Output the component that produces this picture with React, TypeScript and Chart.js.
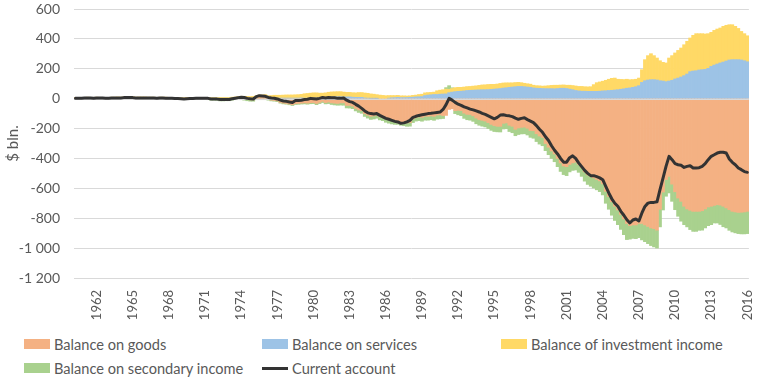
import React, { useEffect, useRef } from "react";
import { Chart, registerables } from "chart.js";

Chart.register(...registerables);

// Quarterly data, seasonally adjusted at annual rates, $ bln. (1960 Q1 – 2015 Q4)
const firstYear = 1960;
const lastYear = 2015;
const quarterNames = ["Q1", "Q2", "Q3", "Q4"];
const yearTickLabels = [
  "1962", "1965", "1968", "1971", "1974", "1977", "1980", "1983", "1986", "1989",
  "1992", "1995", "1998", "2001", "2004", "2007", "2010", "2013", "2016",
];
const seriesNames = [
  "Balance on goods",
  "Balance on services",
  "Balance of investment income",
  "Balance on secondary income",
  "Current account",
];

const categories: string[] = [];
for (let y = firstYear; y <= lastYear; y++) {
  for (const q of quarterNames) categories.push(`${y} ${q}`);
}

const goods = [
  4, 5, 5, 6, /*1960*/ 6, 5, 5, 6, /*1961*/ 5, 5, 4, 4, /*1962*/ 5, 5, 6, 5, /*1963*/
  6, 7, 7, 7, /*1964*/ 4, 5, 5, 5, /*1965*/ 4, 4, 4, 3, /*1966*/ 4, 4, 4, 3, /*1967*/
  2, 1, 1, 0, /*1968*/ -1, 1, 1, 1, /*1969*/ 2, 3, 3, 2, /*1970*/ 1, -3, -3, -4, /*1971*/
  -7, -7, -6, -6, /*1972*/ -3, 0, 2, 3, /*1973*/ -1, -5, -8, -8, /*1974*/ 5, 10, 10, 11, /*1975*/
  -5, -10, -12, -15, /*1976*/ -25, -30, -32, -36, /*1977*/ -40, -33, -32, -30, /*1978*/ -28, -30, -27, -26, /*1979*/
  -32, -25, -18, -26, /*1980*/ -22, -28, -30, -32, /*1981*/ -28, -28, -45, -45, /*1982*/ -50, -65, -75, -80, /*1983*/
  -100, -110, -118, -115, /*1984*/ -110, -120, -125, -135, /*1985*/ -140, -145, -148, -148, /*1986*/ -155, -158, -162, -160, /*1987*/
  -135, -125, -122, -125, /*1988*/ -118, -118, -115, -118, /*1989*/ -110, -108, -113, -112, /*1990*/ -72, -68, -80, -78, /*1991*/
  -80, -97, -105, -106, /*1992*/ -115, -130, -140, -145, /*1993*/ -150, -160, -172, -180, /*1994*/ -185, -185, -165, -162, /*1995*/
  -178, -185, -205, -196, /*1996*/ -192, -190, -198, -213, /*1997*/ -215, -235, -250, -260, /*1998*/ -300, -325, -350, -370, /*1999*/
  -400, -430, -450, -455, /*2000*/ -440, -430, -425, -440, /*2001*/ -460, -490, -510, -520, /*2002*/ -530, -540, -550, -570, /*2003*/
  -620, -655, -690, -720, /*2004*/ -745, -775, -805, -835, /*2005*/ -850, -845, -845, -835, /*2006*/ -835, -845, -855, -865, /*2007*/
  -870, -880, -740, -625, /*2008*/ -541, -520, -572, -623, /*2009*/ -665, -687, -720, -738, /*2010*/ -747, -754, -754, -754, /*2011*/
  -750, -738, -725, -720, /*2012*/ -714, -709, -712, -720, /*2013*/ -731, -743, -754, -758, /*2014*/ -761, -760, -758, -754, /*2015*/
];

const services = [
  -1, -1, -1, -1, /*1960*/ -1, -1, -1, -1, /*1961*/ -1, -1, -1, -1, /*1962*/ -1, -1, 0, 0, /*1963*/
  0, 0, 0, 0, /*1964*/ 0, 0, 0, 0, /*1965*/ 0, 0, 0, 0, /*1966*/ 0, 0, 0, 0, /*1967*/
  1, 1, 1, 1, /*1968*/ 0, 0, 0, 0, /*1969*/ 0, 0, 0, 0, /*1970*/ 1, 1, 1, 1, /*1971*/
  1, 1, 1, 1, /*1972*/ 1, 1, 1, 1, /*1973*/ 1, 1, 1, 2, /*1974*/ 3, 3, 3, 3, /*1975*/
  3, 3, 4, 4, /*1976*/ 4, 4, 4, 4, /*1977*/ 4, 4, 4, 5, /*1978*/ 3, 3, 3, 3, /*1979*/
  5, 6, 6, 7, /*1980*/ 10, 12, 12, 13, /*1981*/ 13, 12, 12, 12, /*1982*/ 10, 9, 9, 9, /*1983*/
  5, 4, 2, 2, /*1984*/ 1, 0, 0, 0, /*1985*/ 4, 6, 7, 9, /*1986*/ 7, 7, 8, 9, /*1987*/
  10, 12, 13, 14, /*1988*/ 21, 24, 26, 28, /*1989*/ 28, 30, 31, 32, /*1990*/ 40, 44, 47, 49, /*1991*/
  50, 52, 55, 56, /*1992*/ 57, 58, 59, 60, /*1993*/ 60, 61, 62, 64, /*1994*/ 66, 68, 71, 73, /*1995*/
  76, 78, 80, 82, /*1996*/ 82, 80, 78, 76, /*1997*/ 72, 70, 69, 68, /*1998*/ 67, 67, 67, 66, /*1999*/
  68, 70, 70, 68, /*2000*/ 64, 60, 55, 52, /*2001*/ 50, 50, 49, 49, /*2002*/ 49, 49, 50, 52, /*2003*/
  53, 55, 56, 58, /*2004*/ 60, 63, 66, 70, /*2005*/ 72, 76, 80, 87, /*2006*/ 109, 120, 125, 127, /*2007*/
  127, 125, 120, 118, /*2008*/ 114, 118, 123, 132, /*2009*/ 138, 145, 154, 165, /*2010*/ 181, 185, 187, 192, /*2011*/
  194, 196, 203, 216, /*2012*/ 225, 232, 239, 245, /*2013*/ 252, 259, 261, 261, /*2014*/ 261, 259, 254, 247, /*2015*/
];

const investmentIncome = [
  3, 3, 3, 3, /*1960*/ 4, 4, 4, 4, /*1961*/ 4, 4, 5, 5, /*1962*/ 5, 5, 5, 5, /*1963*/
  5, 5, 6, 6, /*1964*/ 6, 6, 6, 6, /*1965*/ 6, 6, 6, 6, /*1966*/ 6, 6, 6, 6, /*1967*/
  6, 6, 6, 6, /*1968*/ 6, 6, 6, 6, /*1969*/ 6, 6, 6, 6, /*1970*/ 7, 7, 7, 7, /*1971*/
  8, 8, 8, 8, /*1972*/ 9, 10, 11, 12, /*1973*/ 15, 14, 13, 13, /*1974*/ 12, 11, 12, 13, /*1975*/
  17, 18, 19, 19, /*1976*/ 19, 20, 21, 21, /*1977*/ 21, 22, 23, 24, /*1978*/ 30, 32, 34, 36, /*1979*/
  34, 31, 31, 32, /*1980*/ 33, 33, 34, 34, /*1981*/ 34, 32, 30, 30, /*1982*/ 30, 30, 32, 32, /*1983*/
  33, 32, 30, 28, /*1984*/ 26, 24, 22, 20, /*1985*/ 17, 15, 14, 13, /*1986*/ 12, 12, 10, 10, /*1987*/
  12, 12, 15, 16, /*1988*/ 18, 17, 16, 16, /*1989*/ 25, 27, 29, 32, /*1990*/ 22, 24, 27, 27, /*1991*/
  26, 26, 26, 26, /*1992*/ 27, 28, 30, 32, /*1993*/ 33, 34, 34, 32, /*1994*/ 32, 34, 34, 33, /*1995*/
  30, 28, 28, 27, /*1996*/ 25, 23, 22, 21, /*1997*/ 18, 17, 17, 16, /*1998*/ 18, 20, 22, 24, /*1999*/
  22, 21, 22, 22, /*2000*/ 26, 28, 30, 30, /*2001*/ 32, 30, 30, 31, /*2002*/ 45, 58, 62, 65, /*2003*/
  70, 75, 80, 80, /*2004*/ 70, 66, 62, 60, /*2005*/ 55, 52, 50, 51, /*2006*/ 85, 141, 163, 174, /*2007*/
  161, 147, 134, 125, /*2008*/ 125, 154, 165, 174, /*2009*/ 185, 194, 207, 219, /*2010*/ 225, 239, 248, 243, /*2011*/
  241, 237, 232, 228, /*2012*/ 232, 234, 234, 239, /*2013*/ 239, 236, 234, 223, /*2014*/ 209, 191, 181, 174, /*2015*/
];

const secondaryIncome = [
  -4, -4, -4, -4, /*1960*/ -5, -5, -5, -5, /*1961*/ -5, -5, -5, -5, /*1962*/ -5, -5, -5, -5, /*1963*/
  -5, -5, -5, -5, /*1964*/ -5, -5, -5, -5, /*1965*/ -5, -5, -5, -5, /*1966*/ -6, -6, -6, -6, /*1967*/
  -6, -6, -6, -6, /*1968*/ -6, -6, -6, -6, /*1969*/ -6, -6, -6, -6, /*1970*/ -7, -7, -7, -7, /*1971*/
  -8, -8, -8, -8, /*1972*/ -7, -7, -7, -7, /*1973*/ -9, -9, -9, -9, /*1974*/ -7, -7, -7, -7, /*1975*/
  -5, -5, -5, -5, /*1976*/ -5, -5, -5, -5, /*1977*/ -6, -6, -6, -6, /*1978*/ -7, -7, -7, -7, /*1979*/
  -8, -8, -8, -9, /*1980*/ -11, -11, -12, -12, /*1981*/ -15, -16, -17, -18, /*1982*/ -17, -17, -17, -18, /*1983*/
  -19, -20, -21, -21, /*1984*/ -21, -22, -22, -23, /*1985*/ -24, -24, -24, -24, /*1986*/ -23, -23, -23, -24, /*1987*/
  -25, -25, -25, -26, /*1988*/ -26, -26, -26, -27, /*1989*/ -27, -27, -20, 10, /*1990*/ 25, 5, -20, -30, /*1991*/
  -34, -35, -36, -38, /*1992*/ -37, -38, -38, -39, /*1993*/ -39, -40, -40, -40, /*1994*/ -37, -38, -38, -39, /*1995*/
  -42, -43, -43, -44, /*1996*/ -44, -45, -45, -46, /*1997*/ -50, -52, -54, -55, /*1998*/ -48, -50, -50, -52, /*1999*/
  -55, -57, -58, -60, /*2000*/ -50, -50, -52, -53, /*2001*/ -60, -62, -64, -66, /*2002*/ -68, -70, -72, -74, /*2003*/
  -80, -85, -90, -95, /*2004*/ -98, -100, -105, -108, /*2005*/ -90, -90, -92, -95, /*2006*/ -110, -112, -115, -118, /*2007*/
  -122, -120, -118, -120, /*2008*/ -112, -111, -115, -120, /*2009*/ -122, -133, -123, -120, /*2010*/ -129, -134, -134, -127, /*2011*/
  -130, -127, -125, -123, /*2012*/ -118, -123, -130, -137, /*2013*/ -134, -138, -138, -140, /*2014*/ -142, -145, -147, -149, /*2015*/
];

const currentAccount = [
  2, 3, 3, 4, /*1960*/ 5, 4, 3, 5, /*1961*/ 4, 4, 3, 3, /*1962*/ 4, 4, 5, 4, /*1963*/
  7, 7, 7, 7, /*1964*/ 5, 5, 5, 5, /*1965*/ 4, 4, 4, 3, /*1966*/ 4, 4, 3, 2, /*1967*/
  2, 1, 1, 0, /*1968*/ -2, 0, 1, 1, /*1969*/ 2, 3, 3, 2, /*1970*/ 2, -2, -2, -3, /*1971*/
  -6, -6, -5, -5, /*1972*/ -1, 3, 7, 9, /*1973*/ 8, 2, -1, -2, /*1974*/ 14, 20, 18, 16, /*1975*/
  8, 4, 3, -2, /*1976*/ -10, -16, -18, -22, /*1977*/ -25, -12, -12, -10, /*1978*/ -6, -4, 2, 0, /*1979*/
  -2, 2, 8, 4, /*1980*/ 8, 6, 6, 2, /*1981*/ 2, 4, -10, -20, /*1982*/ -25, -38, -50, -65, /*1983*/
  -82, -95, -100, -102, /*1984*/ -100, -112, -122, -132, /*1985*/ -138, -145, -152, -156, /*1986*/ -165, -162, -155, -145, /*1987*/
  -125, -118, -112, -108, /*1988*/ -104, -100, -98, -95, /*1989*/ -92, -90, -72, -40, /*1990*/ 2, -10, -25, -37, /*1991*/
  -45, -55, -62, -70, /*1992*/ -75, -82, -89, -98, /*1993*/ -105, -115, -125, -135, /*1994*/ -125, -110, -108, -112, /*1995*/
  -115, -120, -130, -138, /*1996*/ -132, -128, -140, -150, /*1997*/ -160, -180, -205, -225, /*1998*/ -255, -280, -315, -345, /*1999*/
  -370, -400, -425, -425, /*2000*/ -395, -383, -400, -430, /*2001*/ -455, -480, -500, -515, /*2002*/ -515, -522, -530, -542, /*2003*/
  -587, -631, -670, -700, /*2004*/ -720, -754, -780, -810, /*2005*/ -832, -812, -805, -818, /*2006*/ -765, -721, -699, -694, /*2007*/
  -694, -690, -609, -531, /*2008*/ -453, -386, -408, -435, /*2009*/ -442, -446, -460, -453, /*2010*/ -449, -464, -464, -462, /*2011*/
  -453, -435, -408, -386, /*2012*/ -375, -364, -359, -359, /*2013*/ -364, -404, -426, -442, /*2014*/ -464, -475, -488, -493, /*2015*/
];

const colors = {
  goods: "#F4B183",
  services: "#9DC3E6",
  investment: "#FFD966",
  secondary: "#A9D18E",
  line: "#333333",
  text: "#595959",
  grid: "#D9D9D9",
};

const FONT = "Lato, 'Open Sans', sans-serif";

function formatTick(v: number): string {
  const a = Math.abs(v);
  const s = a >= 1000 ? `${Math.floor(a / 1000)} ${String(a % 1000).padStart(3, "0")}` : String(a);
  return (v < 0 ? "-" : "") + s;
}

const legendItems = [
  { label: seriesNames[0], color: colors.goods, kind: "box", left: 24, top: 344 },
  { label: seriesNames[1], color: colors.services, kind: "box", left: 262, top: 344 },
  { label: seriesNames[2], color: colors.investment, kind: "box", left: 501, top: 344 },
  { label: seriesNames[3], color: colors.secondary, kind: "box", left: 24, top: 368 },
  { label: seriesNames[4], color: colors.line, kind: "line", left: 262, top: 368 },
];

// Draws the zero axis line above the bars but beneath the current-account line.
const zeroLinePlugin = {
  id: "zeroLine",
  beforeDatasetDraw(chart: any, args: any) {
    if (args.index !== 0) return;
    const y = Math.round(chart.scales.y.getPixelForValue(0)) + 0.5;
    const { left, right } = chart.chartArea;
    const ctx = chart.ctx;
    ctx.save();
    ctx.strokeStyle = colors.grid;
    ctx.lineWidth = 1;
    ctx.beginPath();
    ctx.moveTo(left, y);
    ctx.lineTo(right, y);
    ctx.stroke();
    ctx.restore();
  },
};

export default function App() {
  const canvasRef = useRef<HTMLCanvasElement | null>(null);

  useEffect(() => {
    const canvas = canvasRef.current;
    if (!canvas) return;
    const barCommon = {
      type: "bar" as const,
      stack: "bars",
      order: 1,
      borderWidth: 0,
      categoryPercentage: 1,
      barPercentage: 1,
    };
    const chart = new Chart(canvas, {
      type: "bar",
      data: {
        labels: categories,
        datasets: [
          {
            type: "line",
            label: seriesNames[4],
            data: currentAccount,
            stack: "ca",
            order: 0,
            borderColor: colors.line,
            backgroundColor: colors.line,
            borderWidth: 3,
            pointRadius: 0,
            tension: 0,
            borderJoinStyle: "round",
            borderCapStyle: "round",
            fill: false,
          } as any,
          { ...barCommon, label: seriesNames[0], data: goods, backgroundColor: colors.goods },
          { ...barCommon, label: seriesNames[1], data: services, backgroundColor: colors.services },
          { ...barCommon, label: seriesNames[2], data: investmentIncome, backgroundColor: colors.investment },
          { ...barCommon, label: seriesNames[3], data: secondaryIncome, backgroundColor: colors.secondary },
        ],
      },
      options: {
        responsive: false,
        animation: false,
        events: [],
        layout: { padding: { top: 9, right: 12, left: 0, bottom: 0 } },
        plugins: { legend: { display: false }, tooltip: { enabled: false } },
        scales: {
          x: {
            type: "category",
            stacked: true,
            offset: true,
            grid: {
              display: true,
              drawOnChartArea: false,
              drawTicks: true,
              tickLength: 12,
              color: "rgba(0,0,0,0)",
              tickColor: "rgba(0,0,0,0)",
            },
            border: { display: false },
            ticks: {
              autoSkip: false,
              maxRotation: 90,
              minRotation: 90,
              padding: 0,
              color: colors.text,
              font: { family: FONT, size: 13 },
              callback: (_v: any, index: number) =>
                index % 12 === 7 ? yearTickLabels[(index - 7) / 12] : "",
            },
            afterFit: (scale: any) => {
              scale.height = 52;
            },
          },
          y: {
            stacked: true,
            min: -1200,
            max: 600,
            grid: {
              color: colors.grid,
              lineWidth: 1,
              drawTicks: true,
              tickLength: 14,
              tickColor: "rgba(0,0,0,0)",
            },
            border: { display: false },
            ticks: {
              stepSize: 200,
              padding: 0,
              color: colors.text,
              font: { family: FONT, size: 14 },
              callback: (v: any) => formatTick(Number(v)),
            },
            title: {
              display: true,
              text: "$ bln.",
              color: colors.text,
              font: { family: FONT, size: 15 },
              padding: { top: 4, bottom: 4 },
            },
            afterFit: (scale: any) => {
              scale.width = 74;
            },
          },
        },
      },
      plugins: [zeroLinePlugin],
    });
    return () => chart.destroy();
  }, []);

  return (
    <div style={{ position: "absolute", left: 0, top: 0, width: 763, height: 381, background: "#fff" }}>
      <canvas ref={canvasRef} width={763} height={330} style={{ display: "block", width: 763, height: 330 }} />
      {legendItems.map((it) => (
        <div
          key={it.label}
          style={{
            position: "absolute",
            left: it.left,
            top: it.top - 10,
            height: 20,
            display: "flex",
            alignItems: "center",
            whiteSpace: "nowrap",
            fontFamily: FONT,
            fontSize: 14.6,
            color: colors.text,
          }}
        >
          {it.kind === "box" ? (
            <span style={{ display: "inline-block", width: 26, height: 10, background: it.color, marginRight: 4 }} />
          ) : (
            <span style={{ display: "inline-block", width: 26, height: 3, background: it.color, marginRight: 4 }} />
          )}
          <span>{it.label}</span>
        </div>
      ))}
    </div>
  );
}
